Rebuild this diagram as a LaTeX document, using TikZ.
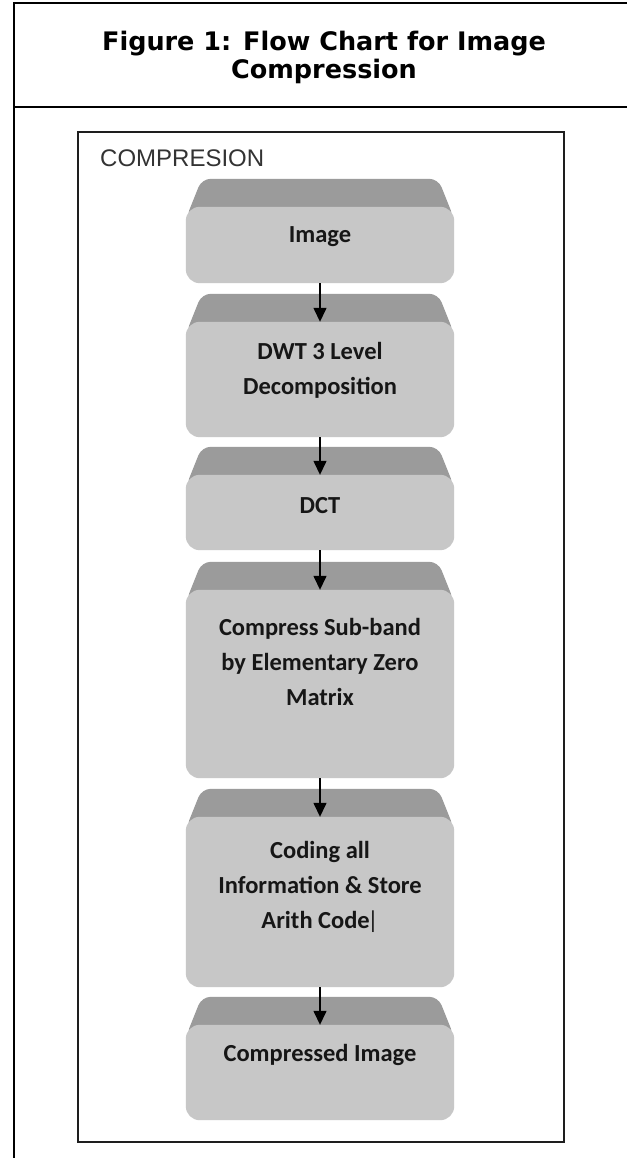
\documentclass[tikz,border=0pt]{standalone}
\usepackage{fontspec}
\newfontfamily\titlefont{DejaVu Sans}
\newfontfamily\boxfont{Carlito}
\newfontfamily\labelfont{Liberation Sans}
\usetikzlibrary{arrows.meta,calc}
\definecolor{bodygray}{RGB}{199,199,199}
\definecolor{bandgray}{RGB}{155,155,155}
\definecolor{txtcol}{RGB}{22,22,22}
\definecolor{framecol}{RGB}{30,30,30}
\begin{document}
\begin{tikzpicture}[x=1pt,y=-1pt,
  outerline/.style={line width=1.5pt, black},
  innerframe/.style={line width=1.4pt, draw=framecol},
  body/.style={rounded corners=14pt, minimum width=268pt, inner sep=0pt, draw=none},
  boxtxt/.style={font=\boxfont\bfseries\fontsize{24.5}{35}\selectfont, text=txtcol, align=center},
  titletxt/.style={font=\titlefont\bfseries\fontsize{25.5}{24}\selectfont, text=black, anchor=base},
  arr/.style={line width=1.4pt, black, -{Triangle[width=13pt,length=14pt]}}
]
\useasboundingbox (0,0) rectangle (627,1158);
\fill[white] (0,0) rectangle (627,1158);

% outer table lines
\draw[outerline] (13,3) -- (627,3);
\draw[outerline] (13,107) -- (627,107);
\draw[outerline] (14,2.25) -- (14,1158);

% title
\node[titletxt] (title1) at (324,51) {Figure 1: Flow Chart for Image};
\node[titletxt] (title2) at (324,79) {Compression};

% inner frame
\draw[innerframe] (78,132) rectangle (564,1142);
\node[font=\labelfont\fontsize{24}{28}\selectfont, text=black!80, anchor=base west, inner sep=0pt] (lbl) at (100,167) {COMPRESION};

% body positions
\path
  (320,245)    node[body, minimum height=76pt] (b1) {}
  (320,379.5)  node[body, minimum height=115pt] (b2) {}
  (320,512.5)  node[body, minimum height=75pt] (b3) {}
  (320,684)    node[body, minimum height=188pt] (b4) {}
  (320,902)    node[body, minimum height=170pt] (b5) {}
  (320,1072.5) node[body, minimum height=95pt] (b6) {};

\foreach \b in {b1,b2,b3,b4,b5,b6}{
  \fill[bandgray, rounded corners=9pt]
    ($(\b.north west)+(0,12)$) -- ($(\b.north west)+(16,-28)$) --
    ($(\b.north east)+(-16,-28)$) -- ($(\b.north east)+(0,12)$) -- cycle;
  \fill[bodygray, rounded corners=14pt] (\b.north west) rectangle (\b.south east);
}

% texts
\node[boxtxt] (t1) at (320,237) {Image};
\node[boxtxt] (t2) at (320,370) {DWT 3 Level\\Decomposition};
\node[boxtxt] (t3) at (320,506) {DCT};
\node[boxtxt] (t4) at (320,662) {Compress Sub-band\\by Elementary Zero\\Matrix};
\node[boxtxt] (t5) at (320,887) {Coding all\\Information \& Store\\Arith Code\kern-2.5pt{\mdseries|}};
\node[boxtxt] (t6) at (320,1055) {Compressed Image};

% arrows
\draw[arr] (b1.south) -- (b2.north);
\draw[arr] (b2.south) -- (b3.north);
\draw[arr] (b3.south) -- (b4.north);
\draw[arr] (b4.south) -- (b5.north);
\draw[arr] (b5.south) -- (b6.north);
\end{tikzpicture}
\end{document}
